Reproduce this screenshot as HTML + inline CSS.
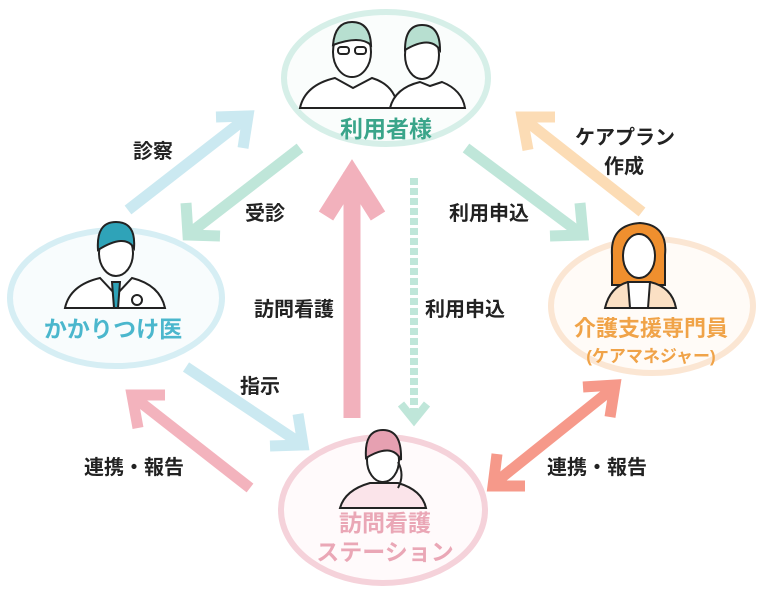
<!DOCTYPE html>
<html><head><meta charset="utf-8"><style>
html,body{margin:0;padding:0;background:#fff;}
svg{display:block}
text{font-family:"Liberation Sans","Noto Sans CJK JP",sans-serif;font-weight:700;}
</style></head><body>
<svg width="768" height="591" viewBox="0 0 768 591" xmlns="http://www.w3.org/2000/svg">
<ellipse cx="386" cy="78" rx="102" ry="66" fill="#fafdfc" stroke="#d6efe8" stroke-width="6"/>
<ellipse cx="116" cy="298" rx="106" ry="68" fill="#f8fcfd" stroke="#d6eef4" stroke-width="6"/>
<ellipse cx="652" cy="306" rx="101" ry="67" fill="#fffbf7" stroke="#fbe6d3" stroke-width="6"/>
<ellipse cx="383" cy="510" rx="102" ry="73" fill="#fffafb" stroke="#f5d2da" stroke-width="6"/>

<g fill="none" stroke-linejoin="miter" stroke-linecap="butt">
 <line x1="128" y1="210" x2="245" y2="119" stroke="#cbe9f1" stroke-width="11"/>
 <polyline points="216,117 248,116 243,148" stroke="#cbe9f1" stroke-width="11"/>
 <line x1="300" y1="148" x2="190" y2="233" stroke="#bfe6d9" stroke-width="11"/>
 <polyline points="186,203 188,235 220,236" stroke="#bfe6d9" stroke-width="11"/>
 <line x1="466" y1="148" x2="580" y2="233" stroke="#bfe6d9" stroke-width="11"/>
 <polyline points="550,236 583,235 580,203" stroke="#bfe6d9" stroke-width="11"/>
 <line x1="642" y1="212" x2="525" y2="120" stroke="#fcdcb5" stroke-width="11"/>
 <polyline points="528,150 522,117 555,117" stroke="#fcdcb5" stroke-width="11"/>
 <line x1="352" y1="418" x2="352" y2="172" stroke="#f2b1bc" stroke-width="17"/>
 <polyline points="326,216 352,175 378,216" stroke="#f2b1bc" stroke-width="17"/>
 <line x1="414" y1="178" x2="414" y2="420" stroke="#bfe6d9" stroke-width="8" stroke-dasharray="7,3"/>
 <polyline points="401,404 414,420 427,404" stroke="#bfe6d9" stroke-width="8"/>
 <line x1="186" y1="367" x2="300" y2="443" stroke="#cbe9f1" stroke-width="11"/>
 <polyline points="270,446 303,445 298,414" stroke="#cbe9f1" stroke-width="11"/>
 <line x1="250" y1="488" x2="135" y2="398" stroke="#f3b3bd" stroke-width="11"/>
 <polyline points="138,428 132,395 165,395" stroke="#f3b3bd" stroke-width="11"/>
 <line x1="496" y1="482" x2="612" y2="389" stroke="#f6998a" stroke-width="11"/>
 <polyline points="583,387 615,385 610,417" stroke="#f6998a" stroke-width="11"/>
 <polyline points="497,454 493,486 525,486" stroke="#f6998a" stroke-width="11"/>
</g>

<g stroke="#222" stroke-width="2" fill="#fff">
 <path d="M300,108 Q305,85 335,78 L353,88 L372,78 Q395,85 398,108 Z"/>
 <ellipse cx="352" cy="52" rx="19" ry="25"/>
 <path d="M333,45 Q335,22 352,22 Q370,22 371,45 Q360,35 333,45Z" fill="#b7dfd0"/>
 <rect x="338" y="47" width="11" height="7" rx="3" fill="none"/><rect x="355" y="47" width="11" height="7" rx="3" fill="none"/>
 <path d="M390,108 Q395,88 420,82 L430,86 L442,82 Q462,90 465,108Z"/>
 <ellipse cx="422" cy="55" rx="17" ry="24"/>
 <path d="M405,50 Q405,25 422,25 Q440,25 440,50 Q430,35 405,50Z" fill="#b7dfd0"/>
</g>
<g stroke="#222" stroke-width="2">
 <path d="M65,308 Q70,285 100,278 L116,295 L132,278 Q160,285 165,308Z" fill="#fff"/>
 <path d="M112,282 L120,282 L118,308 L114,308Z" fill="#2fa3b8"/>
 <ellipse cx="116" cy="253" rx="17" ry="23" fill="#fff"/>
 <path d="M98,250 Q96,222 116,222 Q136,222 134,248 Q125,233 98,250Z" fill="#2fa3b8"/>
 <circle cx="137" cy="300" r="5" fill="#fff"/>
</g>
<g stroke="#222" stroke-width="2">
 <path d="M612,255 Q610,225 640,223 Q668,225 665,255 L665,285 L612,285Z" fill="#ef8f2e"/>
 <path d="M605,308 Q610,287 628,282 L650,282 Q672,287 676,308Z" fill="#fbe0c4"/>
 <path d="M628,282 L650,282 L648,308 L630,308Z" fill="#fff"/>
 <ellipse cx="639" cy="256" rx="16" ry="22" fill="#fff"/>
</g>
<g stroke="#222" stroke-width="2">
 <path d="M340,508 Q345,490 370,483 L398,483 Q422,490 426,508Z" fill="#fbe4ea"/>
 <ellipse cx="383" cy="460" rx="16" ry="22" fill="#fff"/>
 <path d="M366,458 Q364,430 383,430 Q402,430 401,460 Q392,442 366,458Z" fill="#e6a0b1"/>
 <path d="M398,462 Q405,475 398,488" fill="none"/>
</g>

<text x="386" y="137" font-size="23" fill="#3aa58a" text-anchor="middle">利用者様</text>
<text x="113" y="337" font-size="23" fill="#4bb7cd" text-anchor="middle">かかりつけ医</text>
<text x="651" y="336" font-size="22" fill="#f0a348" text-anchor="middle">介護支援専門員</text>
<text x="651" y="362" font-size="17" fill="#f0a348" text-anchor="middle">(ケアマネジャー)</text>
<text x="385" y="531" font-size="23" fill="#eaa7b6" text-anchor="middle">訪問看護</text>
<text x="385" y="560" font-size="23" fill="#eaa7b6" text-anchor="middle">ステーション</text>

<g font-size="20" fill="#222">
<text x="133" y="158">診察</text>
<text x="245" y="220">受診</text>
<text x="449" y="220">利用申込</text>
<text x="575" y="144">ケアプラン</text>
<text x="604" y="173">作成</text>
<text x="254" y="316">訪問看護</text>
<text x="425" y="316">利用申込</text>
<text x="240" y="393">指示</text>
<text x="84" y="474">連携・報告</text>
<text x="547" y="474">連携・報告</text>
</g>
</svg>
</body></html>
